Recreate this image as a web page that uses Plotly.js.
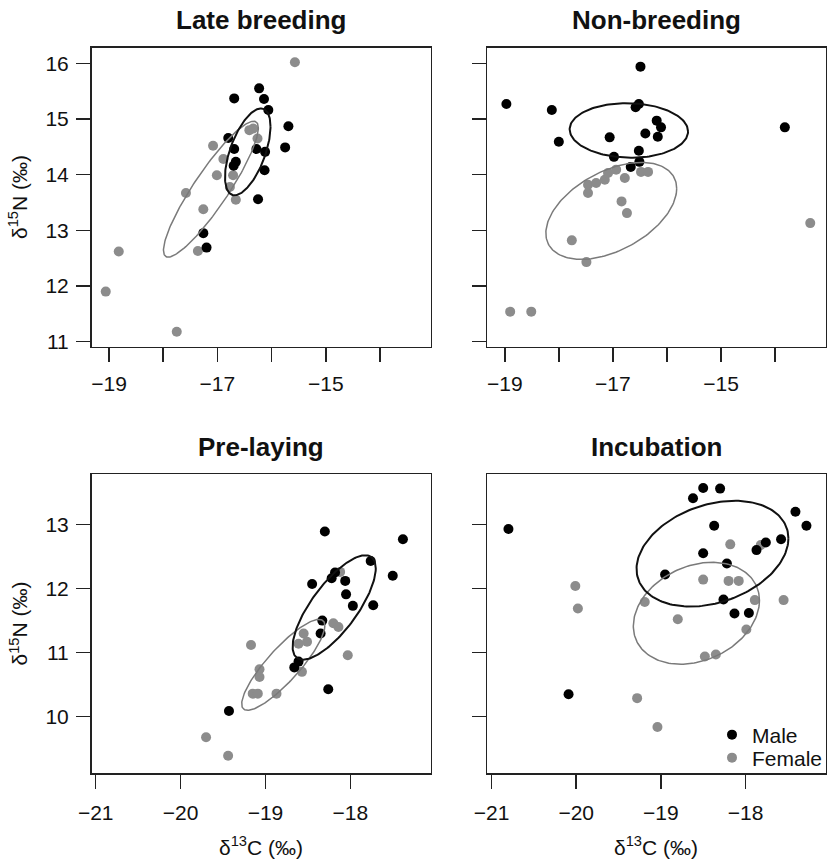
<!DOCTYPE html>
<html>
<head>
<meta charset="utf-8">
<script src="https://cdn.plot.ly/plotly-3.0.1.min.js"></script>
<style>html,body{margin:0;padding:0;background:#fff;}#chart{width:829px;height:863px;}</style>
</head>
<body>
<div id="chart"></div>
<script>
// ---------- Data ----------
const panelTitles = ["Late breeding", "Non-breeding", "Pre-laying", "Incubation"];
const sexNames = ["Male", "Female"];

// Late breeding
const lbMaleX = [-16.23,-16.69,-16.14,-16.06,-15.69,-16.80,-16.69,-16.28,-16.12,-15.75,-16.66,-16.70,-16.13,-16.25,-17.26,-17.20];
const lbMaleY = [15.55,15.37,15.36,15.16,14.87,14.66,14.46,14.46,14.41,14.49,14.23,14.16,14.08,13.56,12.95,12.69];
const lbFemaleX = [-15.57,-16.34,-16.41,-16.26,-17.08,-16.89,-17.01,-16.71,-16.77,-17.58,-16.66,-17.26,-17.36,-18.82,-19.06,-17.75];
const lbFemaleY = [16.02,14.83,14.80,14.65,14.52,14.28,13.99,13.99,13.78,13.67,13.55,13.38,12.63,12.62,11.90,11.18];

// Non-breeding
const nbMaleX = [-16.49,-18.97,-18.13,-16.58,-16.52,-16.19,-16.11,-16.17,-16.40,-17.06,-18.00,-16.52,-16.98,-16.51,-16.67,-13.82];
const nbMaleY = [15.94,15.27,15.16,15.21,15.27,14.97,14.85,14.68,14.74,14.67,14.59,14.43,14.32,14.23,14.14,14.85];
const nbFemaleX = [-18.90,-18.51,-17.49,-17.76,-16.74,-16.84,-17.46,-17.46,-17.31,-17.15,-17.09,-16.94,-16.78,-16.48,-16.35,-13.35];
const nbFemaleY = [11.54,11.54,12.43,12.82,13.31,13.52,13.67,13.82,13.85,13.91,14.03,14.09,13.94,14.05,14.05,13.13];

// Pre-laying
const plMaleX = [-18.30,-17.38,-17.76,-17.50,-18.22,-18.18,-18.06,-18.45,-18.05,-17.97,-17.73,-18.33,-18.35,-18.61,-18.66,-18.26,-19.43];
const plMaleY = [12.89,12.77,12.43,12.20,12.16,12.25,12.12,12.07,11.91,11.73,11.74,11.50,11.30,10.86,10.77,10.43,10.09];
const plFemaleX = [-18.12,-18.20,-18.14,-18.03,-18.55,-18.51,-18.61,-18.57,-19.17,-19.07,-19.07,-19.15,-19.09,-18.87,-19.70,-19.44];
const plFemaleY = [12.26,11.46,11.40,10.96,11.30,11.17,11.14,10.70,11.12,10.74,10.62,10.36,10.36,10.36,9.68,9.39];

// Incubation
const inMaleX = [-20.80,-18.50,-18.30,-18.62,-17.41,-17.28,-18.37,-17.58,-17.76,-17.87,-18.50,-18.22,-18.95,-18.26,-18.13,-17.96,-20.09];
const inMaleY = [12.93,13.57,13.56,13.41,13.20,12.98,12.98,12.77,12.72,12.60,12.55,12.39,12.22,11.83,11.61,11.62,10.35];
const inFemaleX = [-18.18,-17.82,-18.50,-18.20,-18.08,-20.01,-19.98,-19.19,-17.89,-17.55,-18.80,-17.99,-18.48,-18.35,-19.28,-19.04];
const inFemaleY = [12.69,12.68,12.14,12.12,12.12,12.04,11.69,11.79,11.82,11.82,11.52,11.36,10.94,10.97,10.29,9.84];

// Standard ellipses: [centre x, centre y, sd x, sd y, correlation]
const lbMaleEll = [-16.44, 14.41, 0.42, 0.78, 0.58];
const lbFemaleEll = [-17.12, 13.74, 0.875, 1.22, 0.90];
const nbMaleEll = [-16.705, 14.795, 1.095, 0.49, -0.04];
const nbFemaleEll = [-17.03, 13.35, 1.21, 0.87, 0.46];
const plMaleEll = [-18.19, 11.705, 0.49, 0.815, 0.75];
const plFemaleEll = [-18.79, 10.81, 0.49, 0.71, 0.86];
const inMaleEll = [-18.39, 12.545, 0.897, 0.825, 0.29];
const inFemaleEll = [-18.58, 11.615, 0.745, 0.795, 0.25];

// Tick values / labels
const topXLabelTicks = [-19,-17,-15];
const topXLabels = ["\u221219","\u221217","\u221215"];
const topXMinorTicks = [-18,-16,-14];
const topYTicks = [11,12,13,14,15,16];
const botXTicks = [-21,-20,-19,-18];
const botXLabels = ["\u221221","\u221220","\u221219","\u221218"];
const botYTicks = [10,11,12,13];

// ---------- Styling ----------
const FONT = "Liberation Sans, Arial, Helvetica, sans-serif";
const BLACK = "#000000";
const GREY = "#8c8c8c";

function ellipsePts(p) {
  const [cx, cy, sx, sy, r] = p;
  const xs = [], ys = [];
  const n = 180;
  const k = Math.sqrt(1 - r * r);
  for (let i = 0; i <= n; i++) {
    const t = 2 * Math.PI * i / n;
    xs.push(cx + sx * Math.cos(t));
    ys.push(cy + sy * (r * Math.cos(t) + k * Math.sin(t)));
  }
  return {xs, ys};
}

const panels = [
  {xa:"x",  ya:"y",  mX:lbMaleX, mY:lbMaleY, fX:lbFemaleX, fY:lbFemaleY, mE:lbMaleEll, fE:lbFemaleEll},
  {xa:"x2", ya:"y2", mX:nbMaleX, mY:nbMaleY, fX:nbFemaleX, fY:nbFemaleY, mE:nbMaleEll, fE:nbFemaleEll},
  {xa:"x3", ya:"y3", mX:plMaleX, mY:plMaleY, fX:plFemaleX, fY:plFemaleY, mE:plMaleEll, fE:plFemaleEll},
  {xa:"x4", ya:"y4", mX:inMaleX, mY:inMaleY, fX:inFemaleX, fY:inFemaleY, mE:inMaleEll, fE:inFemaleEll}
];

const traces = [];
panels.forEach((p, i) => {
  traces.push({type:"scatter", mode:"markers", x:p.fX, y:p.fY, xaxis:p.xa, yaxis:p.ya,
    name:sexNames[1], legend:"legend2", legendgroup:"f", showlegend:i===0,
    marker:{color:GREY, size:10, line:{width:0}}, hoverinfo:"x+y"});
  traces.push({type:"scatter", mode:"markers", x:p.mX, y:p.mY, xaxis:p.xa, yaxis:p.ya,
    name:sexNames[0], legend:"legend", legendgroup:"m", showlegend:i===0,
    marker:{color:BLACK, size:10, line:{width:0}}, hoverinfo:"x+y"});
  const fe = ellipsePts(p.fE), me = ellipsePts(p.mE);
  traces.push({type:"scatter", mode:"lines", x:fe.xs, y:fe.ys, xaxis:p.xa, yaxis:p.ya,
    showlegend:false, line:{color:"#7a7a7a", width:1.5}, hoverinfo:"skip"});
  traces.push({type:"scatter", mode:"lines", x:me.xs, y:me.ys, xaxis:p.xa, yaxis:p.ya,
    showlegend:false, line:{color:"#111111", width:2}, hoverinfo:"skip"});
});

const W = 829, H = 863;
const colL = [91.5/W, 430.5/W], colR = [487.3/W, 825.5/W];
const rowT = [1-346.5/H, 1-47.5/H], rowB = [1-773.3/H, 1-474/H];

function axisBase(extra) {
  return Object.assign({
    showgrid:false, zeroline:false, showline:true, mirror:true,
    linecolor:"#222222", linewidth:1.5,
    ticks:"outside", ticklen:14, tickwidth:1.5, tickcolor:"#222222",
    tickfont:{family:FONT, size:21, color:"#111111"},
    tickmode:"array", fixedrange:true
  }, extra);
}
const topMinor = {tickmode:"array", tickvals:topXMinorTicks, ticks:"outside", ticklen:14, tickwidth:1.5, tickcolor:"#222222", showgrid:false};

const topXRange = [-19.323, -13.068];
const topYRange = [10.914, 16.284];
const botXRange = [-21.05, -17.055];
const botYRange = [9.117, 13.788];

const legendBase = {xanchor:"left", yanchor:"middle", bgcolor:"rgba(0,0,0,0)",
  font:{family:FONT, size:21, color:"#111111"}, itemwidth:30, borderwidth:0};

const layout = {
  width:W, height:H,
  margin:{l:0, r:0, t:0, b:0},
  paper_bgcolor:"#ffffff", plot_bgcolor:"#ffffff",
  font:{family:FONT, color:"#111111"},
  showlegend:true,
  legend: Object.assign({x:712/W, y:1-735/H}, legendBase),
  legend2: Object.assign({x:712/W, y:1-758/H}, legendBase),
  xaxis: axisBase({domain:colL, anchor:"y", range:topXRange, tickvals:topXLabelTicks, ticktext:topXLabels, ticklabelstandoff:4, minor:topMinor}),
  yaxis: axisBase({domain:rowT, anchor:"x", range:topYRange, tickvals:topYTicks, ticktext:topYTicks.map(String), ticklabelstandoff:3}),
  xaxis2: axisBase({domain:colR, anchor:"y2", range:topXRange, tickvals:topXLabelTicks, ticktext:topXLabels, ticklabelstandoff:4, minor:topMinor}),
  yaxis2: axisBase({domain:rowT, anchor:"x2", range:topYRange, tickvals:topYTicks, showticklabels:false}),
  xaxis3: axisBase({domain:colL, anchor:"y3", range:botXRange, tickvals:botXTicks, ticktext:botXLabels, ticklabelstandoff:6}),
  yaxis3: axisBase({domain:rowB, anchor:"x3", range:botYRange, tickvals:botYTicks, ticktext:botYTicks.map(String), ticklabelstandoff:3}),
  xaxis4: axisBase({domain:colR, anchor:"y4", range:botXRange, tickvals:botXTicks, ticktext:botXLabels, ticklabelstandoff:6}),
  yaxis4: axisBase({domain:rowB, anchor:"x4", range:botYRange, tickvals:botYTicks, showticklabels:false}),
  annotations: []
};

const titlePos = [[261, 20], [656, 20], [261, 447], [656, 447]];
panelTitles.forEach((t, i) => {
  layout.annotations.push({text:"<b>"+t+"</b>", xref:"paper", yref:"paper",
    x:titlePos[i][0]/W, y:1-titlePos[i][1]/H, xanchor:"center", yanchor:"middle",
    showarrow:false, font:{family:FONT, size:26, color:"#111111"}});
});
const yTitle = "\u03b4<sup>15</sup>N (\u2030)";
const xTitle = "\u03b4<sup>13</sup>C (\u2030)";
[[18, 197], [18, 623.5]].forEach(p => {
  layout.annotations.push({text:yTitle, xref:"paper", yref:"paper", x:p[0]/W, y:1-p[1]/H,
    xanchor:"center", yanchor:"middle", textangle:-90, showarrow:false,
    font:{family:FONT, size:21, color:"#111111"}});
});
[[261, 846], [656, 846]].forEach(p => {
  layout.annotations.push({text:xTitle, xref:"paper", yref:"paper", x:p[0]/W, y:1-p[1]/H,
    xanchor:"center", yanchor:"middle", showarrow:false,
    font:{family:FONT, size:21, color:"#111111"}});
});

Plotly.newPlot("chart", traces, layout, {displayModeBar:false, staticPlot:true});
</script>
</body>
</html>
